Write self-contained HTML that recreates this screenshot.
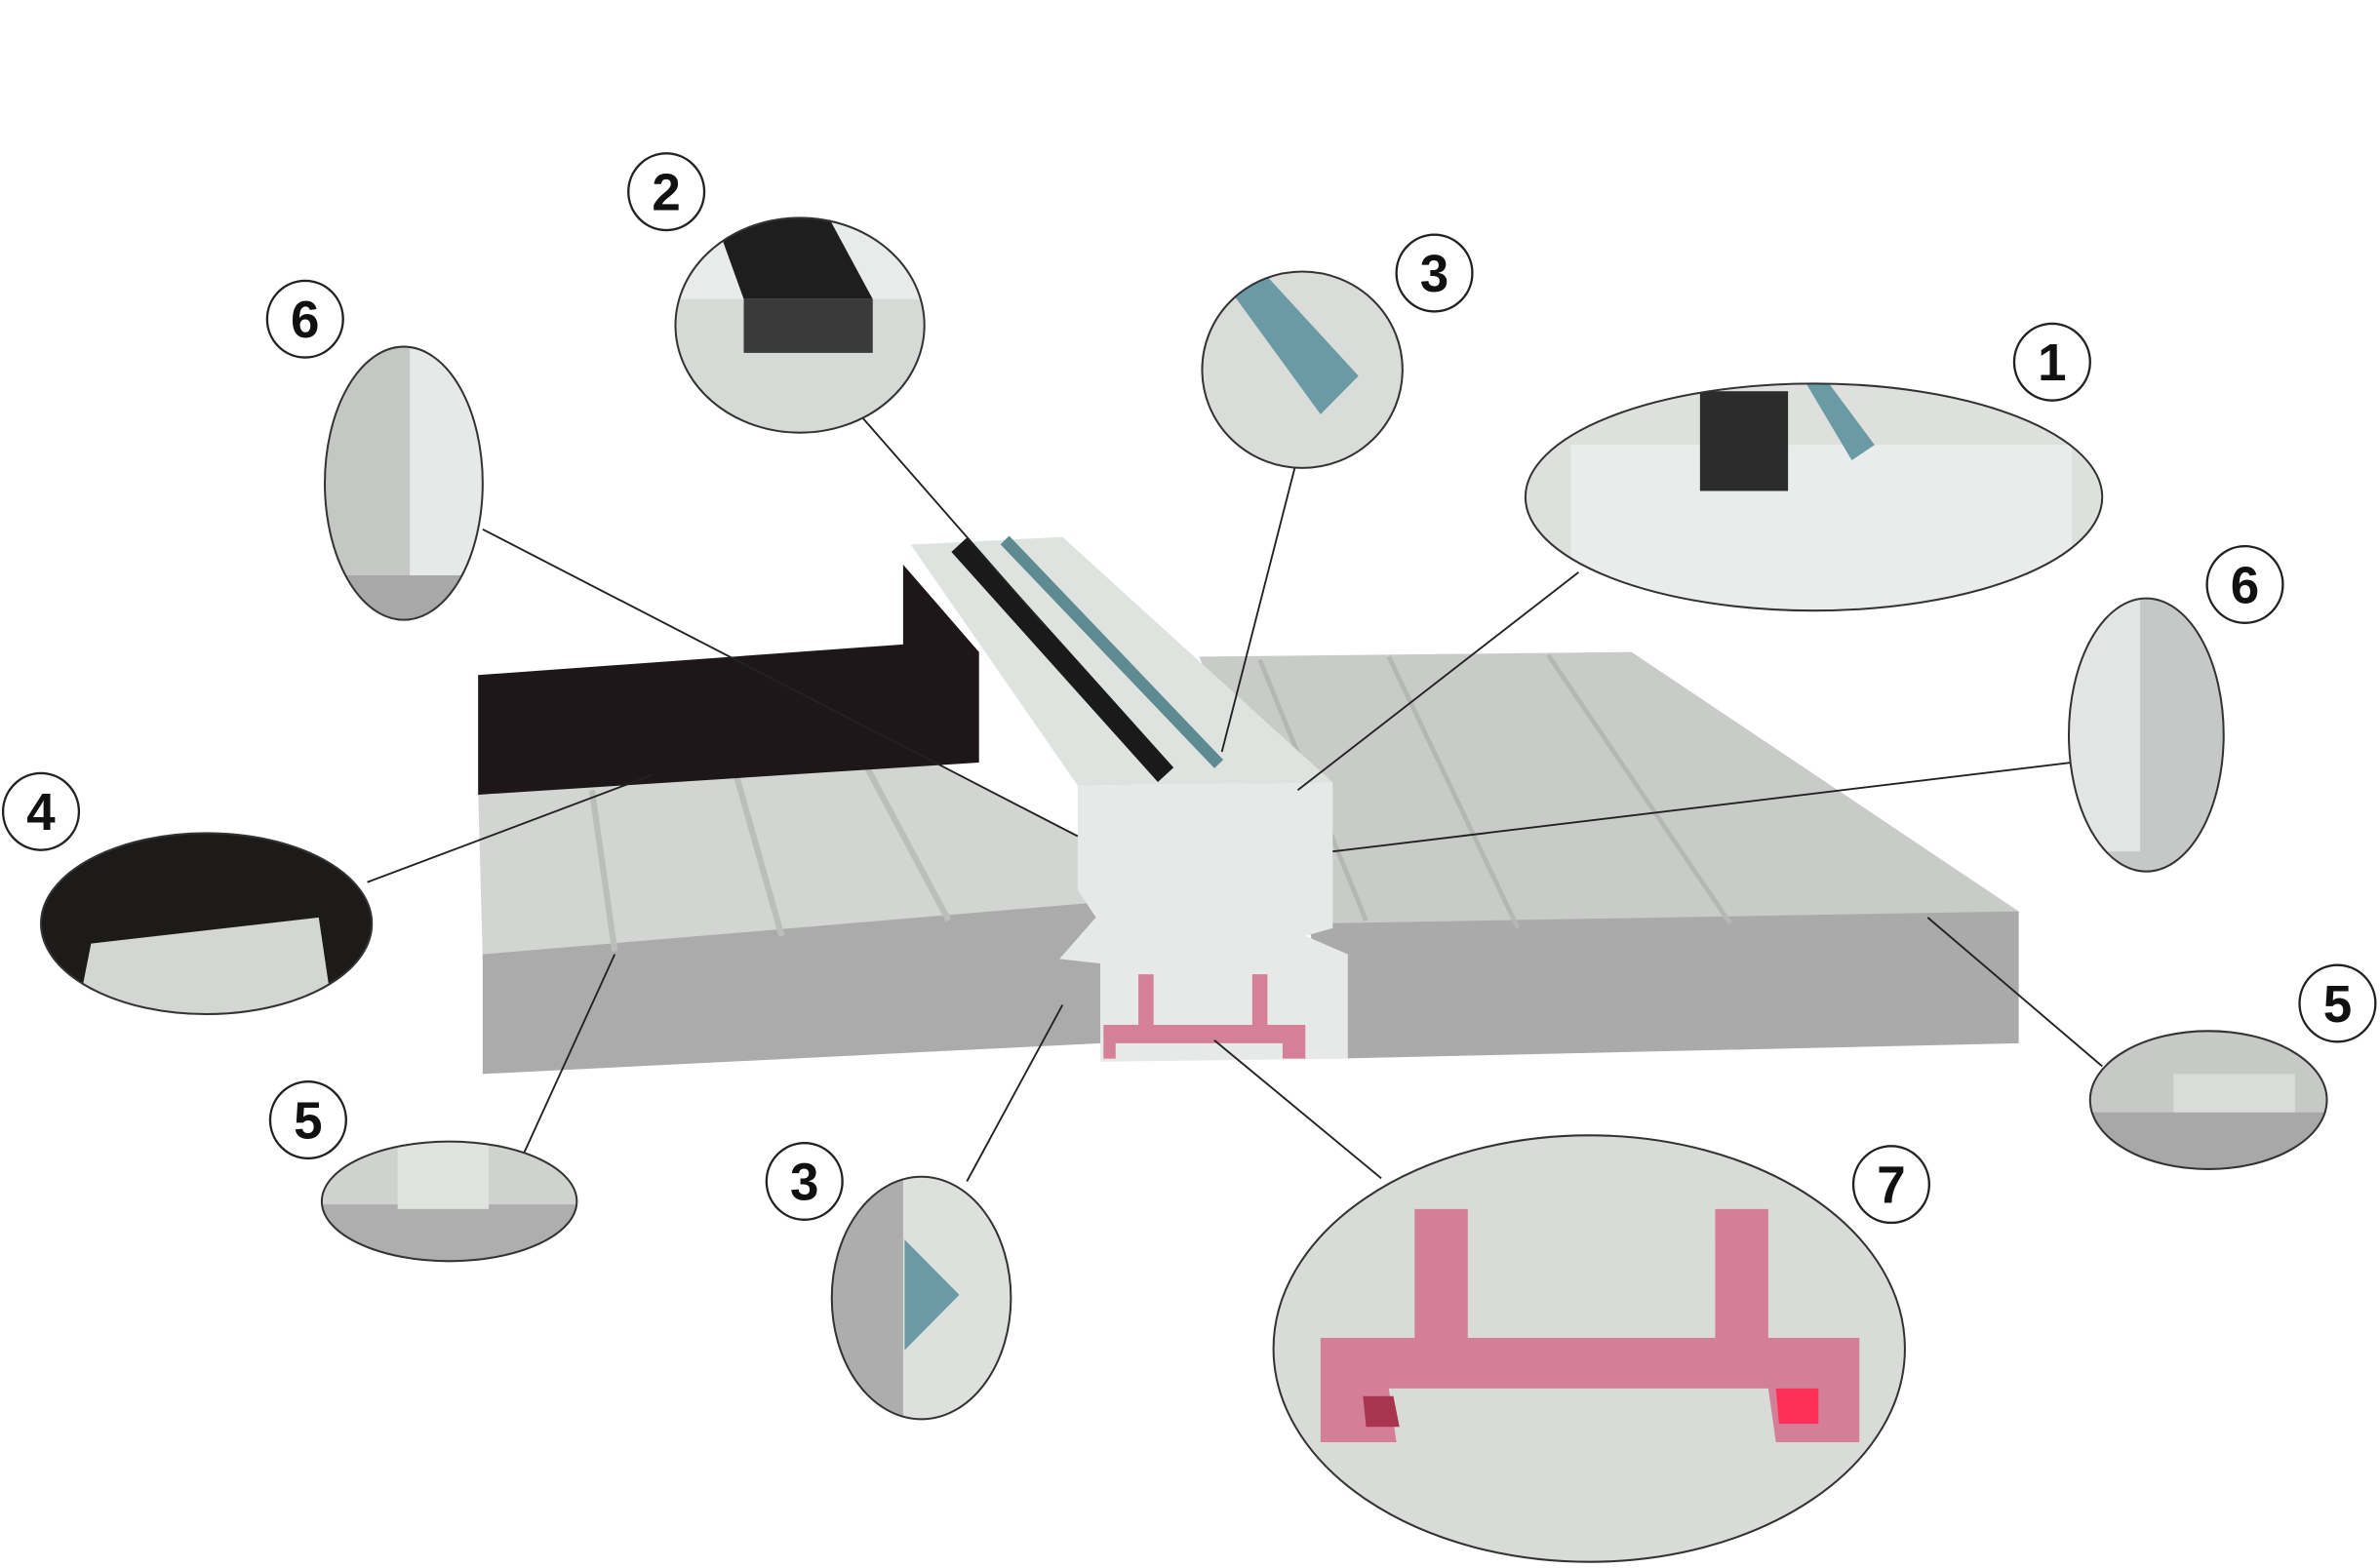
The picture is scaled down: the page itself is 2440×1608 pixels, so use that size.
<!DOCTYPE html>
<html><head><meta charset="utf-8"><style>
html,body{margin:0;padding:0;background:#fff;}
svg{display:block;}
text{font-family:"Liberation Sans",sans-serif;font-weight:bold;font-size:34px;}
</style></head><body>
<svg width="2440" height="1608" viewBox="0 0 1568 1022" preserveAspectRatio="none" xmlns="http://www.w3.org/2000/svg">
<defs>
<clipPath id="c2"><ellipse cx="527" cy="212" rx="82" ry="70"/></clipPath>
<clipPath id="c3"><ellipse cx="858" cy="241" rx="66" ry="64"/></clipPath>
<clipPath id="c1"><ellipse cx="1195" cy="324" rx="190" ry="74"/></clipPath>
<clipPath id="c6a"><ellipse cx="266" cy="315" rx="52" ry="89"/></clipPath>
<clipPath id="c6b"><ellipse cx="1414" cy="479" rx="51" ry="89"/></clipPath>
<clipPath id="c4"><ellipse cx="136" cy="602" rx="109" ry="59"/></clipPath>
<clipPath id="c5a"><ellipse cx="296" cy="783" rx="84" ry="39"/></clipPath>
<clipPath id="c5b"><ellipse cx="1455" cy="717" rx="78" ry="45"/></clipPath>
<clipPath id="c3b"><ellipse cx="607" cy="846" rx="59" ry="79"/></clipPath>
<clipPath id="c7"><ellipse cx="1047" cy="879" rx="208" ry="139"/></clipPath>
</defs>
<!-- right slab -->
<polygon points="790,428 1075,425 1330,594 865,605" fill="#c9cbc9"/>
<polygon points="862,602 1330,594 1330,680 880,690" fill="#a9aaa9"/>
<g stroke="#b5b7b5" stroke-width="3"><line x1="915" y1="428" x2="1000" y2="605"/><line x1="1020" y1="427" x2="1140" y2="602"/><line x1="830" y1="430" x2="900" y2="600"/></g>
<!-- left slab -->
<polygon points="315,515 600,490 710,545 725,588 318,625" fill="#d3d5d3"/>
<polygon points="318,622 725,588 725,680 318,700" fill="#ababab"/>
<g stroke="#bcbebc" stroke-width="4"><line x1="390" y1="515" x2="405" y2="620"/><line x1="485" y1="505" x2="515" y2="610"/><line x1="570" y1="498" x2="625" y2="600"/></g>
<polygon points="315,440 595,420 595,368 645,425 645,497 315,518" fill="#1e1719"/>
<!-- center block -->
<polygon points="600,355 700,350 878,510 710,512" fill="#dfe3e0"/>
<polygon points="710,512 878,510 878,605 860,610 888,622 888,690 725,692 725,628 698,625 722,598 710,580" fill="#e6e9e7"/>
<line x1="632" y1="355" x2="768" y2="505" stroke="#1b1a1b" stroke-width="14"/>
<line x1="662" y1="352" x2="803" y2="498" stroke="#5e8a92" stroke-width="8"/>
<!-- pink profile -->
<path d="M727,668 L860,668 L860,690 L845,690 L845,680 L735,680 L735,690 L727,690Z M750,635 h10 v33 h-10Z M825,635 h10 v33 h-10Z" fill="#d58099"/>
<!-- leader lines -->
<g stroke="#222" stroke-width="1.2" fill="none">
<line x1="568" y1="272" x2="690" y2="410"/>
<line x1="853" y1="305" x2="805" y2="490"/>
<line x1="1040" y1="373" x2="855" y2="515"/>
<line x1="318" y1="345" x2="710" y2="545"/>
<line x1="1365" y1="497" x2="878" y2="555"/>
<line x1="242" y1="575" x2="430" y2="505"/>
<line x1="345" y1="752" x2="405" y2="622"/>
<line x1="1385" y1="695" x2="1270" y2="598"/>
<line x1="637" y1="770" x2="700" y2="655"/>
<line x1="910" y1="768" x2="800" y2="678"/>
</g>
<!-- detail bubbles -->
<g clip-path="url(#c2)"><rect x="440" y="140" width="180" height="150" fill="#d6dad7"/><rect x="445" y="140" width="170" height="55" fill="#e8ebe9"/><polygon points="470,140 545,140 575,195 490,195" fill="#1e1e1e"/><rect x="490" y="195" width="85" height="35" fill="#3a3a3a"/></g>
<g clip-path="url(#c3)"><rect x="790" y="175" width="140" height="135" fill="#d9dcd9"/><polygon points="800,175 830,175 895,245 870,270" fill="#6a9aa3"/></g>
<g clip-path="url(#c1)"><rect x="1000" y="248" width="390" height="155" fill="#dde0dd"/><rect x="1035" y="290" width="330" height="110" fill="#e9ecea"/><rect x="1120" y="255" width="58" height="65" fill="#2c2c2c"/><polygon points="1190,250 1205,250 1235,290 1220,300" fill="#6a9aa3"/></g>
<g clip-path="url(#c6a)"><rect x="210" y="220" width="115" height="190" fill="#c5c7c5"/><rect x="270" y="220" width="55" height="160" fill="#e6e9e7"/><rect x="210" y="375" width="115" height="40" fill="#a8a8a8"/></g>
<g clip-path="url(#c6b)"><rect x="1360" y="385" width="110" height="190" fill="#c5c8c6"/><rect x="1360" y="385" width="50" height="170" fill="#e2e5e3"/></g>
<g clip-path="url(#c4)"><rect x="25" y="540" width="225" height="125" fill="#1d1a1a"/><polygon points="60,615 210,598 220,665 50,665" fill="#d3d6d3"/></g>
<g clip-path="url(#c5a)"><rect x="210" y="740" width="175" height="85" fill="#cfd2cf"/><rect x="210" y="785" width="175" height="40" fill="#aeaeae"/><rect x="262" y="740" width="60" height="48" fill="#dfe2df"/></g>
<g clip-path="url(#c5b)"><rect x="1375" y="670" width="165" height="95" fill="#c6c9c6"/><rect x="1375" y="725" width="165" height="40" fill="#a8a8a8"/><rect x="1432" y="700" width="80" height="25" fill="#dadcda"/></g>
<g clip-path="url(#c3b)"><rect x="545" y="765" width="125" height="165" fill="#adadad"/><rect x="595" y="765" width="75" height="165" fill="#dde0dd"/><polygon points="596,808 632,844 596,880" fill="#6a9aa3"/></g>
<g clip-path="url(#c7)"><rect x="835" y="738" width="425" height="285" fill="#d8dbd8"/>
<path d="M870,872 L1225,872 L1225,940 L1170,940 L1165,905 L915,905 L920,940 L870,940Z M932,788 h35 v84 h-35Z M1130,788 h35 v84 h-35Z" fill="#d47f98"/>
<path d="M898,910 L918,910 L922,930 L900,930Z" fill="#a8354d"/>
<path d="M1170,905 L1198,905 L1198,928 L1172,928Z" fill="#ff2f5a"/></g>
<g fill="none" stroke="#333" stroke-width="1.3">
<ellipse cx="527" cy="212" rx="82" ry="70"/><ellipse cx="858" cy="241" rx="66" ry="64"/>
<ellipse cx="1195" cy="324" rx="190" ry="74"/><ellipse cx="266" cy="315" rx="52" ry="89"/>
<ellipse cx="1414" cy="479" rx="51" ry="89"/><ellipse cx="136" cy="602" rx="109" ry="59"/>
<ellipse cx="296" cy="783" rx="84" ry="39"/><ellipse cx="1455" cy="717" rx="78" ry="45"/>
<ellipse cx="607" cy="846" rx="59" ry="79"/><ellipse cx="1047" cy="879" rx="208" ry="139"/>
</g>
<!-- number badges -->
<g fill="#fff" stroke="#222" stroke-width="1.5">
<circle cx="439" cy="125" r="25"/><circle cx="945" cy="178" r="25"/><circle cx="1352" cy="236" r="25"/>
<circle cx="201" cy="208" r="25"/><circle cx="1479" cy="381" r="25"/><circle cx="27" cy="529" r="25"/>
<circle cx="203" cy="730" r="25"/><circle cx="1540" cy="654" r="25"/><circle cx="530" cy="770" r="25"/>
<circle cx="1246" cy="772" r="25"/>
</g>
<g text-anchor="middle" fill="#111">
<text x="439" y="137">2</text><text x="945" y="190">3</text><text x="1352" y="248">1</text>
<text x="201" y="220">6</text><text x="1479" y="393">6</text><text x="27" y="541">4</text>
<text x="203" y="742">5</text><text x="1540" y="666">5</text><text x="530" y="782">3</text>
<text x="1246" y="784">7</text>
</g>
</svg>
</body></html>
